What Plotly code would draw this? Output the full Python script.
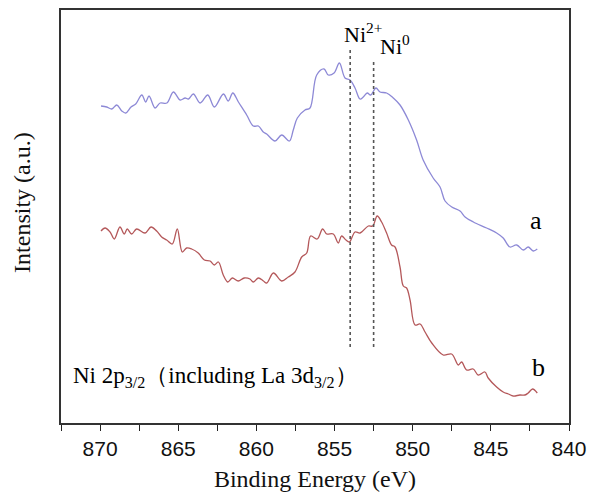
import plotly.graph_objects as go

# Curve a (upper, blue)
energy_a = [869.94, 869.57, 869.25, 868.93, 868.61, 868.36, 868.02, 867.72, 867.33, 867.08,
            866.87, 866.48, 866.16, 865.73, 865.31, 864.88, 864.56, 864.35, 864.03, 863.60,
            863.11, 862.69, 862.11, 861.80, 861.51, 861.15, 860.62, 860.20, 859.87, 859.56,
            859.34, 858.81, 858.38, 857.89, 857.64, 857.38, 856.89, 856.57, 856.14, 855.67,
            855.40, 855.03, 854.69, 854.33, 854.01, 853.69, 853.37, 853.16, 852.91, 852.69,
            852.35, 852.09, 851.67, 851.24, 850.81, 850.28, 849.75, 849.33, 848.69, 848.25,
            847.93, 847.50, 846.97, 846.65, 846.12, 845.27, 844.63, 844.21, 843.78, 843.35,
            842.92, 842.61, 842.29, 842.03]
intensity_a = [317, 316, 314, 318, 312, 310, 316, 319, 328, 321,
               327, 315, 320, 320, 331, 323, 325, 324, 329, 320,
               328, 316, 329, 322, 330, 321, 308, 297, 297, 291,
               289, 282, 288, 282, 293, 305, 313, 315, 348, 354,
               348, 350, 360, 345, 343, 335, 324, 326, 330, 328,
               335, 331, 330, 325, 318, 303, 283, 263, 245, 236,
               222, 216, 212, 206, 201, 195, 190, 185, 176, 178,
               173, 176, 172, 174]

# Curve b (lower, red)
energy_b = [869.94, 869.68, 869.36, 869.09, 868.73, 868.45, 868.26, 867.98, 867.66, 867.12,
            866.74, 866.38, 866.06, 865.74, 865.38, 865.06, 864.74, 864.46, 864.14, 863.72,
            863.33, 862.96, 862.69, 862.43, 862.12, 861.83, 861.54, 861.16, 860.78, 860.41,
            860.20, 859.87, 859.55, 859.34, 858.91, 858.38, 857.96, 857.53, 857.10, 856.78,
            856.53, 856.11, 855.76, 855.50, 855.08, 854.76, 854.55, 854.27, 854.05, 853.69,
            853.37, 852.84, 852.56, 852.27, 851.99, 851.67, 851.35, 851.13, 850.81, 850.60,
            850.39, 850.17, 849.85, 849.53, 849.21, 848.78, 848.05, 847.51, 847.08, 846.87,
            846.55, 846.13, 845.81, 845.38, 845.17, 844.63, 844.21, 843.88, 843.57, 843.14,
            842.82, 842.61, 842.33, 842.03]
intensity_b = [192, 195, 191, 184, 196, 189, 194, 189, 194, 190,
               196, 192, 186, 183, 179, 194, 171, 175, 174, 170,
               163, 162, 158, 161, 148, 141, 145, 142, 145, 144,
               141, 145, 142, 140, 150, 142, 146, 151, 166, 170,
               187, 184, 194, 189, 189, 180, 187, 183, 181, 191,
               190, 197, 197, 207, 201, 190, 178, 176, 156, 137,
               135, 123, 98, 99, 91, 80, 68, 69, 58, 61,
               53, 54, 48, 51, 45, 36, 31, 29, 27, 28,
               28, 30, 34, 30]

# Reference lines
ref_positions = [854.0, 852.5]
ref_tops = [376, 363]
ref_bottom = 76

tick_vals = [870, 865, 860, 855, 850, 845, 840]
tick_text = ["870", "865", "860", "855", "850", "845", "840"]
minor_vals = [872.5, 867.5, 862.5, 857.5, 852.5, 847.5, 842.5]

serif = "Liberation Serif, Times New Roman, serif"
sans = "Liberation Sans, Arial, sans-serif"

fig = go.Figure()
fig.add_trace(go.Scatter(x=energy_a, y=intensity_a, mode="lines",
                         line=dict(color="#8d89d6", width=1.3), line_shape="spline",
                         showlegend=False, hoverinfo="skip"))
fig.add_trace(go.Scatter(x=energy_b, y=intensity_b, mode="lines",
                         line=dict(color="#b4585a", width=1.3), line_shape="spline",
                         showlegend=False, hoverinfo="skip"))
for xp, yt in zip(ref_positions, ref_tops):
    fig.add_trace(go.Scatter(x=[xp, xp], y=[ref_bottom, yt], mode="lines",
                             line=dict(color="#555555", width=1.6, dash="dot"),
                             showlegend=False, hoverinfo="skip"))

fig.add_annotation(x=854.5, y=390, xref="x", yref="y", xanchor="left", yanchor="middle",
                   text="Ni<sup>2+</sup>", showarrow=False,
                   font=dict(family=serif, size=22, color="black"))
fig.add_annotation(x=852.25, y=378, xref="x", yref="y", xanchor="left", yanchor="middle",
                   text="Ni<sup>0</sup>", showarrow=False,
                   font=dict(family=serif, size=22, color="black"))
fig.add_annotation(x=842.11, y=203, xref="x", yref="y", xanchor="center", yanchor="middle",
                   text="a", showarrow=False, font=dict(family=serif, size=26, color="black"))
fig.add_annotation(x=841.92, y=56, xref="x", yref="y", xanchor="center", yanchor="middle",
                   text="b", showarrow=False, font=dict(family=serif, size=26, color="black"))
fig.add_annotation(x=871.85, y=46, xref="x", yref="y", xanchor="left", yanchor="middle",
                   text="Ni 2p<sub>3/2</sub>（including La 3d<sub>3/2</sub>）", showarrow=False,
                   font=dict(family=serif, size=23, color="black"))
# y-axis title
fig.add_annotation(x=-0.077, y=0.535, xref="paper", yref="paper", xanchor="center", yanchor="middle",
                   text="Intensity (a.u.)", textangle=-90, showarrow=False,
                   font=dict(family=serif, size=24, color="#111"))

fig.update_layout(
    width=590, height=492,
    margin=dict(l=61, r=21, t=10, b=69),
    paper_bgcolor="white", plot_bgcolor="white",
    xaxis=dict(range=[872.5, 840], tickvals=tick_vals, ticktext=tick_text,
               ticks="outside", ticklen=6, tickwidth=1.2, tickcolor="#222",
               minor=dict(tickvals=minor_vals,
                          ticks="outside", ticklen=6, tickwidth=1.2, tickcolor="#222"),
               showline=True, linecolor="#333", linewidth=1.6, mirror=True,
               showgrid=False, zeroline=False, automargin=False,
               tickfont=dict(family=sans, size=21, color="#111"),
               title=dict(text="Binding Energy (eV)", font=dict(family=serif, size=24, color="#111"),
                          standoff=12)),
    yaxis=dict(range=[0, 413], showticklabels=False, ticks="",
               showline=True, linecolor="#333", linewidth=1.6, mirror=True,
               showgrid=False, zeroline=False, automargin=False),
)

fig.write_html("out.html", config={"displayModeBar": False},
               post_script="document.body.style.margin='0';document.body.style.padding='0';")
